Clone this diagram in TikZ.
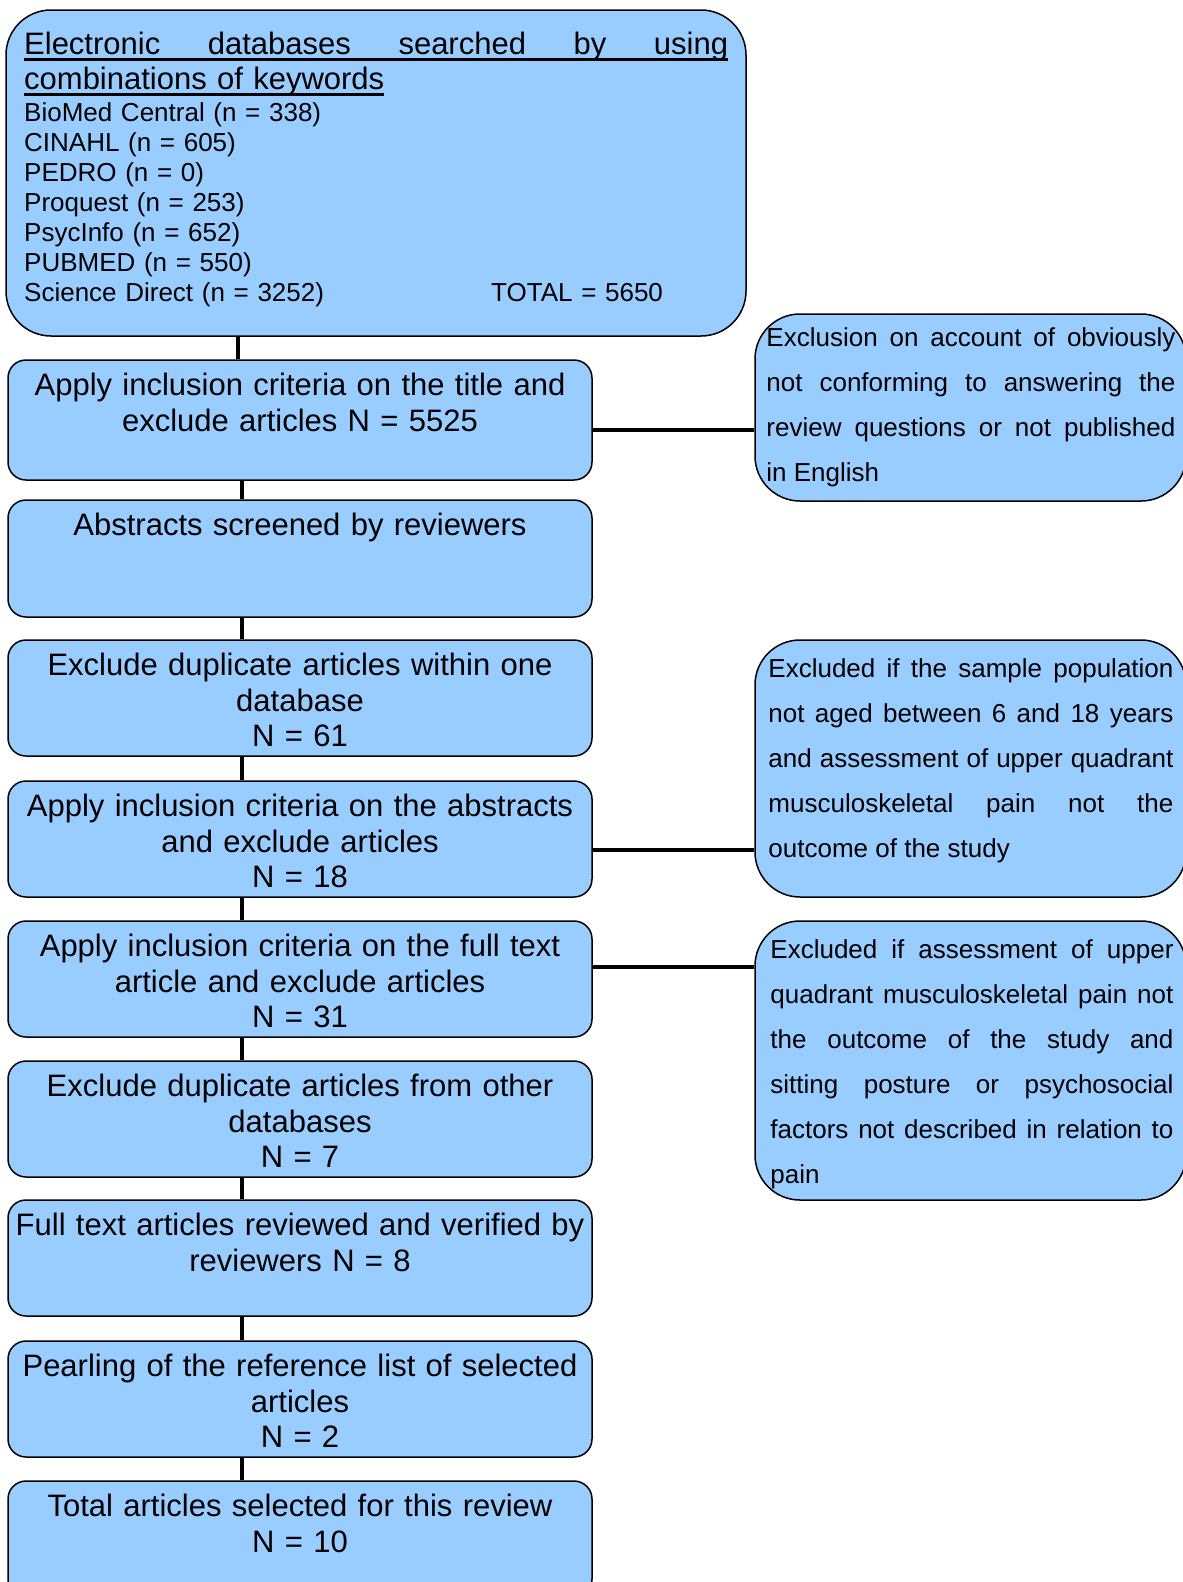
\documentclass[tikz,border=0pt]{standalone}
\usepackage{fontspec}
\setmainfont{Liberation Sans}
\usetikzlibrary{positioning}
\definecolor{boxblue}{HTML}{99CCFF}
\newcommand{\ulin}[1]{\leavevmode\setbox0\hbox{#1}\rlap{\rule[-6pt]{\wd0}{2.6pt}}\box0}

\begin{document}
\begin{tikzpicture}[x=1pt, y=-1pt,
  lbox/.style={rectangle, rounded corners=18pt, draw=black, line width=1.5pt, fill=boxblue, minimum width=584pt, minimum height=116pt, inner sep=0pt},
  ltext/.style={anchor=base, text width=580pt, align=center, inner sep=0pt, font=\fontsize{31}{35.8}\selectfont},
  rbox/.style={rectangle, rounded corners=45pt, draw=black, line width=1.5pt, fill=boxblue, minimum width=431pt, inner sep=0pt},
  rtext/.style={anchor=base west, text width=405pt, align=justify, inner sep=0pt, font=\fontsize{26}{45}\selectfont},
  conn/.style={line width=4.5pt},
]

\useasboundingbox (0,0) rectangle (1183,1582);

% Database search
\node[lbox, minimum width=740pt, minimum height=326pt, rounded corners=45pt] (search) at (376,173) {};
\node[anchor=base west, text width=704pt, align=left, inner sep=0pt, font=\fontsize{31}{35}\selectfont] (searchhead) at (24,54.5)
  {\ulin{\makebox[704pt]{Electronic\hfill databases\hfill searched\hfill by\hfill using}}\\ \ulin{combinations of keywords}};
\node[anchor=base west, text width=704pt, align=left, inner sep=0pt, font=\fontsize{26}{30}\selectfont] (searchlist) at (24,121.7)
  {BioMed Central (n = 338)\\
  CINAHL (n = 605)\\
  PEDRO (n = 0)\\
  Proquest (n = 253)\\
  PsycInfo (n = 652)\\
  PUBMED (n = 550)\\
  \makebox[467pt][l]{Science Direct (n = 3252)}TOTAL = 5650};

% Screening steps
\node[lbox, minimum height=120pt] (title) at (300,420) {};
\node[ltext] (titletxt) at ([yshift=-36pt]title.north) {Apply inclusion criteria on the title and\\ exclude articles N = 5525};

\node[lbox, minimum height=117pt] (abstr) at (300,558.5) {};
\node[ltext] (abstrtxt) at ([yshift=-36pt]abstr.north) {Abstracts screened by reviewers};

\node[lbox] (dupone) at (300,698) {};
\node[ltext] (duponetxt) at ([yshift=-36pt]dupone.north) {Exclude duplicate articles within one\\ database\\ N = 61};

\node[lbox] (abscrit) at (300,839) {};
\node[ltext] (abscrittxt) at ([yshift=-36pt]abscrit.north) {Apply inclusion criteria on the abstracts\\ and exclude articles\\ N = 18};

\node[lbox] (fullcrit) at (300,979) {};
\node[ltext] (fullcrittxt) at ([yshift=-36pt]fullcrit.north) {Apply inclusion criteria on the full text\\ article and exclude articles\\ N = 31};

\node[lbox] (dupother) at (300,1119) {};
\node[ltext] (dupothertxt) at ([yshift=-36pt]dupother.north) {Exclude duplicate articles from other\\ databases\\ N = 7};

\node[lbox] (verified) at (300,1258) {};
\node[ltext] (verifiedtxt) at ([yshift=-36pt]verified.north) {Full text articles reviewed and verified by\\ reviewers N = 8};

\node[lbox] (pearl) at (300,1399) {};
\node[ltext] (pearltxt) at ([yshift=-36pt]pearl.north) {Pearling of the reference list of selected\\ articles\\ N = 2};

\node[lbox] (total) at (300,1539) {};
\node[ltext] (totaltxt) at ([yshift=-36pt]total.north) {Total articles selected for this review\\ N = 10};

% Exclusion notes
\node[rbox, minimum height=187pt] (excla) at (970.5,407.5) {};
\node[rtext, text width=409pt] (exclatxt) at ([xshift=12pt, yshift=-33pt]excla.north west) {Exclusion on account of obviously\linebreak not conforming to answering the\linebreak review questions or not published\linebreak in English};

\node[rbox, minimum height=257pt] (exclb) at (970.5,768.5) {};
\node[rtext] (exclbtxt) at ([xshift=14pt, yshift=-38pt]exclb.north west) {Excluded if the sample population\linebreak not aged between 6 and 18 years\linebreak and assessment of upper quadrant\linebreak musculoskeletal pain not the\linebreak outcome of the study};

\node[rbox, minimum height=279pt] (exclc) at (970.5,1060.5) {};
\node[rtext, text width=403pt] (exclctxt) at ([xshift=16pt, yshift=-38pt]exclc.north west) {Excluded if assessment of upper\linebreak quadrant musculoskeletal pain not\linebreak the outcome of the study and\linebreak sitting posture or psychosocial\linebreak factors not described in relation to\linebreak pain};

% Connections
\draw[conn] ([xshift=-62pt]title.north) -- ([xshift=-62pt]title.north |- search.south);
\draw[conn] ([xshift=-58pt]title.south) -- ([xshift=-58pt]abstr.north);
\draw[conn] ([xshift=-58pt]abstr.south) -- ([xshift=-58pt]dupone.north);
\draw[conn] ([xshift=-58pt]dupone.south) -- ([xshift=-58pt]abscrit.north);
\draw[conn] ([xshift=-58pt]abscrit.south) -- ([xshift=-58pt]fullcrit.north);
\draw[conn] ([xshift=-58pt]fullcrit.south) -- ([xshift=-58pt]dupother.north);
\draw[conn] ([xshift=-58pt]dupother.south) -- ([xshift=-58pt]verified.north);
\draw[conn] ([xshift=-58pt]verified.south) -- ([xshift=-58pt]pearl.north);
\draw[conn] ([xshift=-58pt]pearl.south) -- ([xshift=-58pt]total.north);
\draw[conn] ([yshift=-10pt]title.east) -- ([yshift=-10pt]title.east -| excla.west);
\draw[conn] ([yshift=-11pt]abscrit.east) -- ([yshift=-11pt]abscrit.east -| exclb.west);
\draw[conn] ([yshift=12pt]fullcrit.east) -- ([yshift=12pt]fullcrit.east -| exclc.west);

\end{tikzpicture}
\end{document}
